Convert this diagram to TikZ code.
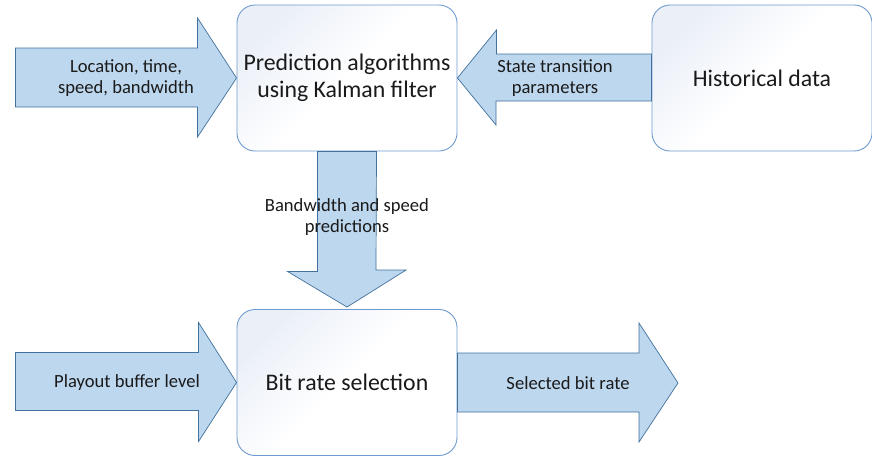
\documentclass[tikz,border=0pt]{standalone}
\usepackage{fontspec}
\setmainfont{Carlito}
\usetikzlibrary{calc}
\definecolor{boxline}{HTML}{6E9BCF}
\definecolor{boxtint}{HTML}{EBF0F8}
\definecolor{arrfill}{HTML}{BDD7EE}
\definecolor{arrline}{HTML}{41719C}
\definecolor{txt}{HTML}{1A1A1A}
\tikzset{
  procbox/.style={draw=boxline, line width=0.9pt, rounded corners=18pt,
    top color=boxtint, bottom color=white, middle color=white, shading angle=45,
    minimum width=220pt, minimum height=146pt, inner sep=0pt,
    align=center, text=txt, font=\fontsize{23.8}{27}\selectfont},
  barrow/.style={draw=arrline, line width=0.7pt, fill=arrfill, line join=miter},
  alabel/.style={align=center, text=txt, font=\fontsize{18.6}{21}\selectfont, inner sep=0pt}
}
\begin{document}
\begin{tikzpicture}[x=1pt,y=-1pt]
\useasboundingbox (0,0) rectangle (872,456);
% boxes
\node[procbox] (pred) at (347,78) {Prediction algorithms\\using Kalman filter};
\node[procbox] (hist) at (762,78) {Historical data};
\node[procbox] (bit) at (347,382.5) {Bit rate selection};
% block arrows
\draw[barrow] (pred.west) -- ++(-39,-60) -- ++(0,30) -- ++(-182,0) -- ++(0,59) -- ++(182,0) -- ++(0,30) -- cycle;
\draw[barrow] (pred.east) -- ++(39,-48) -- ++(0,24) -- (hist.west |- 0,54) -- (hist.west |- 0,101) -- (496,101) -- ++(0,24) -- cycle;
\draw[barrow] ($(pred.south)+(-29.5,0)$) -- ++(0,120) -- ++(-30,0) -- ($(bit.north)+(0,-2)$) -- ++(59,-37) -- ++(-30,0) -- ($(pred.south)+(29.5,0)$) -- cycle;
\draw[barrow] (bit.west) -- ++(-38,-60) -- ++(0,30) -- ++(-183,0) -- ++(0,58) -- ++(183,0) -- ++(0,31) -- cycle;
\coordinate (out) at (678,383);
\draw[barrow] ($(bit.east)+(0,-29.5)$) -- (639,353) -- (639,323) -- (out) -- (639,442) -- (639,412) -- ($(bit.east)+(0,29.5)$) -- cycle;
% labels
\node[alabel] (l1) at (126,78) {Location, time,\\speed, bandwidth};
\node[alabel] (l2) at (555,78) {State transition\\parameters};
\node[alabel] (l3) at (347,217) {Bandwidth and speed\\predictions};
\node[alabel] (l4) at (127,383) {Playout buffer level};
\node[alabel] (l5) at (568,383) {Selected bit rate};
\end{tikzpicture}
\end{document}
